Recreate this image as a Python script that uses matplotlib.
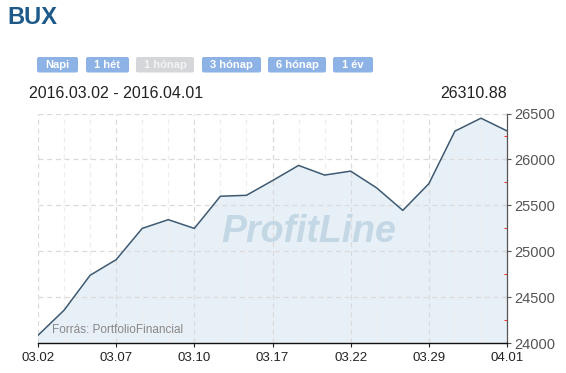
import numpy as np
import matplotlib.pyplot as plt
from matplotlib.patches import FancyBboxPatch
from matplotlib.ticker import MultipleLocator

# BUX index, trading days 2016.03.02 - 2016.04.01
dates = ['03.02', '03.03', '03.04', '03.07', '03.08', '03.09', '03.10', '03.11',
         '03.16', '03.17', '03.18', '03.21', '03.22', '03.23', '03.24', '03.29',
         '03.30', '03.31', '04.01']
values = [24087, 24360, 24740, 24910, 25250, 25345, 25250, 25600,
          25610, 25770, 25935, 25830, 25873, 25690, 25446, 25736,
          26308, 26449, 26310.88]
label_every = 3
period = '2016.03.02 - 2016.04.01'
buttons = ['Napi', '1 hét', '1 hónap', '3 hónap', '6 hónap', '1 év']
active = '1 hónap'

plt.rcParams['font.family'] = ['Liberation Sans', 'DejaVu Sans']

W, H = 566, 373
fig = plt.figure(figsize=(W / 100, H / 100), dpi=100)

# page overlay in pixel coordinates
page = fig.add_axes([0, 0, 1, 1])
page.set_xlim(0, W)
page.set_ylim(H, 0)
page.axis('off')

page.text(7, 17, 'BUX', fontsize=17, fontweight='bold', color='#1d5a8a', va='center')

btn_x = [37, 86, 136, 202, 268, 333]
btn_w = [41, 43, 58, 59, 58, 40]
for name, bx, bw in zip(buttons, btn_x, btn_w):
    face = '#d4d6d9' if name == active else '#8db2e6'
    tc = '#f4f4f4' if name == active else 'white'
    page.add_patch(FancyBboxPatch((bx, 57), bw, 15.5, boxstyle='round,pad=0,rounding_size=2',
                                  fc=face, ec='none'))
    page.text(bx + bw / 2, 64.8, name, fontsize=8, fontweight='bold', color=tc,
              ha='center', va='center')

page.text(29, 93, period, fontsize=11.5, color='#222222', va='center')
page.text(507, 93, f'{values[-1]:.2f}', fontsize=11.5, color='#222222', va='center', ha='right')

# chart
x0, x1, ytop, ybot = 38, 507, 113.5, 343.3
ax = fig.add_axes([x0 / W, (H - ybot) / H, (x1 - x0) / W, (ybot - ytop) / H])
ax.set_zorder(2)
ax.patch.set_alpha(0)
xs = np.arange(len(values))
ax.fill_between(xs, 24000, values, color='#e8f0f7', zorder=1)
ax.plot(xs, values, color='#3e5a72', lw=1.1, zorder=3)
ax.set_xlim(0, len(values) - 1)
ax.set_ylim(24000, 26500)

for i in xs:
    c = '#dadada' if i % label_every == 0 else '#eeeeee'
    ax.axvline(i, color=c, lw=0.9, ls=(0, (4, 3)), zorder=2)
for yv in range(24500, 26501, 500):
    ax.axhline(yv, color='#dadada', lw=0.9, ls=(0, (4, 3)), zorder=2)

ax.set_xticks(xs[::label_every])
ax.set_xticklabels(dates[::label_every])
ax.tick_params(axis='x', direction='out', length=3, width=0.8, color='#222222',
               labelsize=9.5, labelcolor='#222222', pad=3)

ax.yaxis.tick_right()
ax.yaxis.set_major_locator(MultipleLocator(500))
ax.yaxis.set_minor_locator(MultipleLocator(250))
ax.tick_params(axis='y', which='major', direction='inout', length=6, width=0.8,
               color='#555555', labelsize=10.5, labelcolor='#555555', pad=2)
ax.tick_params(axis='y', which='minor', direction='in', length=2, width=0.8, color='#ff3030')

for s in ['top', 'left']:
    ax.spines[s].set_visible(False)
ax.spines['right'].set_color('#555555')
ax.spines['right'].set_linewidth(0.9)
ax.spines['bottom'].set_color('#111111')
ax.spines['bottom'].set_linewidth(1.0)

ax.text(0.578, 0.484, 'ProfitLine', transform=ax.transAxes, fontsize=27, fontweight='heavy',
        style='italic', color='#c3d7e5', ha='center', va='center', zorder=2)
ax.text(0.03, 0.06, 'Forrás: PortfolioFinancial', transform=ax.transAxes, fontsize=8.5,
        color='#888888', ha='left', va='center', zorder=4)

fig.savefig('out.png', dpi=100)
